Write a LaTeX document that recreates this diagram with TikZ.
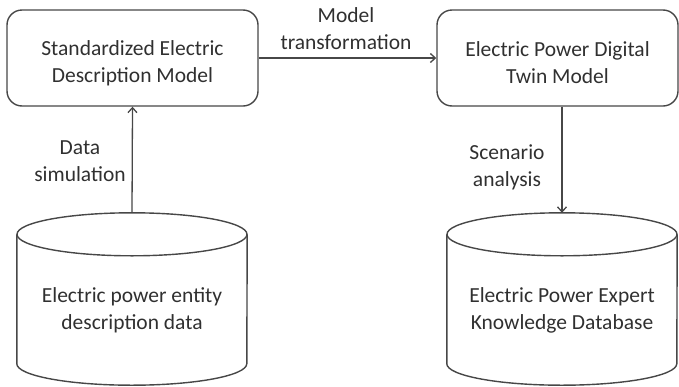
\documentclass[tikz,border=0pt]{standalone}
\usepackage{fontspec}
\setmainfont{Carlito}
\usetikzlibrary{arrows.meta,calc}
\definecolor{linec}{HTML}{474747}
\definecolor{textc}{HTML}{303030}
\tikzset{
  box/.style={draw=linec, line width=1.4pt, rounded corners=15pt, inner sep=0pt},
  dbnode/.style={inner sep=0pt, minimum width=230pt, minimum height=172pt},
  dbline/.style={draw=linec, line width=1.4pt},
  conn/.style={draw=linec, line width=1.3pt, -{Straight Barb[length=5pt,width=9pt]}},
  lbl/.style={inner sep=0pt, align=center, text=textc, font=\fontsize{21.5}{27}\selectfont}
}
\begin{document}
\begin{tikzpicture}[x=1pt,y=-1pt]
\useasboundingbox (0,0) rectangle (679,386);
% boxes
\node[box, minimum width=251pt, minimum height=96pt] (sedm) at (132.5,58) {};
\node[box, minimum width=241pt, minimum height=96pt] (epdt) at (557.5,58) {};
\node[lbl] (sedmt) at ([yshift=-5pt]sedm.center) {Standardized Electric\\Description Model};
\node[lbl] (epdtt) at ([yshift=-5pt]epdt.center) {Electric Power Digital\\Twin Model};
% cylinders
\node[dbnode] (db1) at (132,299) {};
\node[dbnode] (db2) at (562,299) {};
\foreach \n in {db1,db2}{
  \draw[dbline] ([yshift=-21.5pt]\n.north west) -- ([yshift=21.5pt]\n.south west)
     arc[start angle=180,end angle=360,x radius=115pt,y radius=21.5pt]
     -- ([yshift=-21.5pt]\n.north east);
  \draw[dbline] ([yshift=-21.5pt]\n.north) ellipse[x radius=115pt, y radius=21.5pt];
}
\node[lbl] (t1) at (132,310) {Electric power entity\\description data};
\node[lbl] (t2) at (562,310) {Electric Power Expert\\Knowledge Database};
% connectors
\draw[conn] (sedm.east) -- (epdt.west);
\draw[conn] (db1.north) -- (sedm.south);
\draw[conn] (epdt.south -| db2.north) -- (db2.north);
% labels
\node[lbl] (l1) at (346,29) {Model\\transformation};
\node[lbl] (l2) at (80,161) {Data\\simulation};
\node[lbl] (l3) at (507,167) {Scenario\\analysis};
\end{tikzpicture}
\end{document}
